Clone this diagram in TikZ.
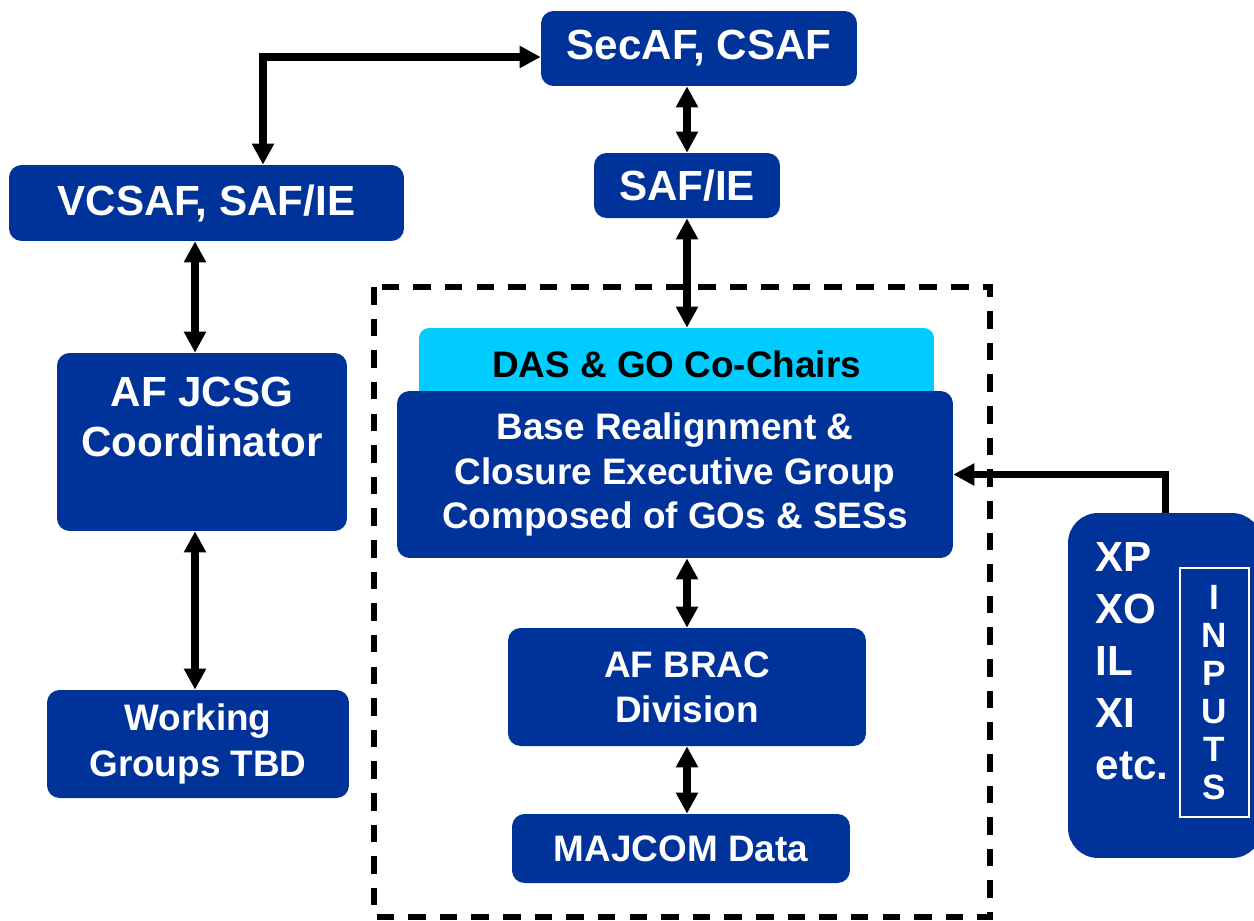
\documentclass[tikz,border=0pt]{standalone}
\usepackage{fontspec}
\setmainfont{Liberation Sans}
\usepackage{xcolor}
\usetikzlibrary{arrows.meta,positioning}
\definecolor{afblue}{RGB}{0,51,153}
\definecolor{chairblue}{RGB}{0,204,255}

\begin{document}
\begin{tikzpicture}[x=0.02cm,y=-0.02cm,
  box/.style={fill=afblue,rounded corners=0.25cm,text=white,align=center,inner sep=0pt},
  big/.style={font=\fontsize{24}{28.5}\selectfont\bfseries},
  mid/.style={font=\fontsize{21}{25.5}\selectfont\bfseries},
  biarr/.style={{Triangle[length=12pt,width=12pt]}-{Triangle[length=12pt,width=12pt]},line width=4pt},
  onearr/.style={-{Triangle[length=12pt,width=12pt]},line width=4pt}]
\clip (0,0) rectangle (1254,920);

% committee frame
\draw[line width=3pt,dash pattern=on 10pt off 8pt] (374,287) rectangle (990,917);

% top of the chain
\node[box,big,minimum width=6.32cm,minimum height=1.5cm] (secaf) at (699,48.5) {SecAF, CSAF};
\node[box,big,minimum width=3.72cm,minimum height=1.3cm] (saf) at (687,185.5) {SAF/IE};
\node[box,big,minimum width=7.9cm,minimum height=1.52cm] (vcsaf) at (206.5,203) {VCSAF, SAF/IE};

% left branch
\node[box,big,minimum width=5.8cm,minimum height=3.56cm] (jcsg) at (202,442) {AF JCSG\\Coordinator\\~};
\node[box,mid,minimum width=6.04cm,minimum height=2.16cm,font=\fontsize{21}{26}\selectfont\bfseries] (wg) at (198,744) {Working\\Groups TBD};

% executive group
\node[fill=chairblue,rounded corners=0.2cm,minimum width=10.3cm,minimum height=1.44cm,inner sep=0pt,mid] (chairs) at (676.5,364) {DAS \& GO Co-Chairs};
\node[box,mid,minimum width=11.12cm,minimum height=3.34cm] (base) at (675,474.5) {Base Realignment \&\\Closure Executive Group\\Composed of GOs \& SESs};
\node[box,mid,minimum width=7.16cm,minimum height=2.36cm] (brac) at (687,687) {AF BRAC\\Division};
\node[box,mid,minimum width=6.76cm,minimum height=1.38cm] (majcom) at (681,848.5) {MAJCOM Data};

% inputs
\node[box,minimum width=3.88cm,minimum height=6.9cm,rounded corners=0.6cm] (inputs) at (1165,685.5) {};
\node[text=white,align=left,inner sep=0pt,font=\fontsize{24}{29.6}\selectfont\bfseries] (xlist) at (1132,661.5) {XP\\XO\\IL\\XI\\etc.};
\node[draw=white,line width=1pt,text=white,align=center,inner sep=0pt,minimum width=1.38cm,minimum height=4.98cm,font=\fontsize{20}{21.6}\selectfont\bfseries] (inbox) at (1214.5,692.5) {I\\N\\P\\U\\T\\S};

% connectors
\draw[biarr] ([xshift=1.13cm]vcsaf.north) |- ([yshift=-0.17cm]secaf.west);
\draw[biarr] (saf.north) -- (saf.north |- secaf.south);
\draw[biarr] (saf.south) -- (saf.south |- chairs.north);
\draw[biarr] ([xshift=-0.14cm]jcsg.north) -- ([xshift=-0.14cm]jcsg.north |- vcsaf.south);
\draw[biarr] ([xshift=-0.14cm]jcsg.south) -- ([xshift=-0.14cm]jcsg.south |- wg.north);
\draw[biarr] (brac.north) -- (brac.north |- base.south);
\draw[biarr] (brac.south) -- (brac.south |- majcom.north);
\draw[onearr] (inputs.north) |- (base.east);
\end{tikzpicture}
\end{document}
